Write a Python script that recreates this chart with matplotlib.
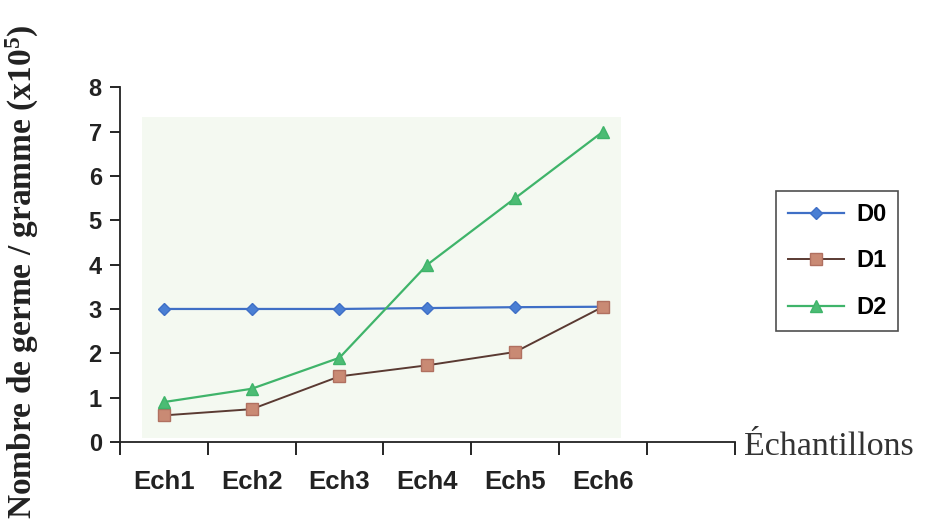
import matplotlib
matplotlib.use("Agg")
import matplotlib.pyplot as plt
from matplotlib.patches import Rectangle

categories = ["Ech1", "Ech2", "Ech3", "Ech4", "Ech5", "Ech6"]
d0 = [3.0, 3.0, 3.0, 3.02, 3.04, 3.05]
d1 = [0.6, 0.74, 1.48, 1.73, 2.03, 3.05]
d2 = [0.9, 1.2, 1.9, 4.0, 5.5, 7.0]
y_ticks = [0, 1, 2, 3, 4, 5, 6, 7, 8]

plt.rcParams["mathtext.fontset"] = "custom"
plt.rcParams["mathtext.rm"] = "Liberation Serif:bold"
plt.rcParams["mathtext.it"] = "Liberation Serif:bold"
plt.rcParams["mathtext.bf"] = "Liberation Serif:bold"

fig = plt.figure(figsize=(9.29, 5.24), dpi=100)
ax = fig.add_axes([0.129, 0.1565, 0.662, 0.677])

x = list(range(len(categories)))

# pale plot-area fill
ax.add_patch(Rectangle((-0.25, 0.08), 5.45, 7.25, facecolor="#f4f9f1",
                       edgecolor="none", zorder=0))

ax.plot(x, d0, color="#3f6fc6", lw=1.6, marker="D", ms=6.5,
        markerfacecolor="#4a7fd4", markeredgecolor="#3f6fc6", label="D0", zorder=3)
ax.plot(x, d1, color="#5a3a32", lw=1.4, marker="s", ms=8,
        markerfacecolor="#c98a74", markeredgecolor="#b07060", label="D1", zorder=3)
ax.plot(x, d2, color="#3fb46a", lw=1.6, marker="^", ms=9,
        markerfacecolor="#4cbc74", markeredgecolor="#3fb46a", label="D2", zorder=3)

ax.set_xlim(-0.5, 6.5)
ax.set_ylim(0, 8)

# ticks sit on category boundaries, labels centred on categories
ax.set_xticks([i - 0.5 for i in range(8)])
ax.set_xticklabels([])
ax.set_xticks(x, minor=True)
ax.set_xticklabels(categories, minor=True, fontsize=18.5, fontweight="bold",
                   family="Liberation Sans", color="#222222")
ax.tick_params(axis="x", which="major", direction="out", length=9, width=1.2)
ax.tick_params(axis="x", which="minor", length=0, pad=20)

ax.set_yticks(y_ticks)
ax.set_yticklabels([str(v) for v in y_ticks], fontsize=17, fontweight="bold",
                   family="Liberation Sans", color="#222222")
ax.tick_params(axis="y", direction="out", length=7, width=1.2, pad=6)

for side in ("top", "right"):
    ax.spines[side].set_visible(False)
for side in ("left", "bottom"):
    ax.spines[side].set_linewidth(1.3)
    ax.spines[side].set_color("#222222")
ax.set_facecolor("white")

ax.set_ylabel(r"Nombre de germe / gramme (x10$^{5}$)", fontsize=24,
              fontweight="bold", family="Liberation Serif",
              color="#222222")
ax.yaxis.set_label_coords(-0.128, 0.48)

fig.text(0.801, 0.148, "Échantillons", fontsize=24.5, family="Liberation Serif",
         color="#333333", ha="left", va="center")

leg = fig.legend(loc="center", bbox_to_anchor=(0.901, 0.502), frameon=True,
                 fancybox=False, edgecolor="#222222", labelspacing=1.0,
                 handlelength=2.4, handletextpad=0.5, borderpad=0.5,
                 prop={"family": "Liberation Sans", "weight": "bold", "size": 17})
leg.get_frame().set_linewidth(1.2)

fig.savefig("out.png", dpi=100, facecolor="white")
